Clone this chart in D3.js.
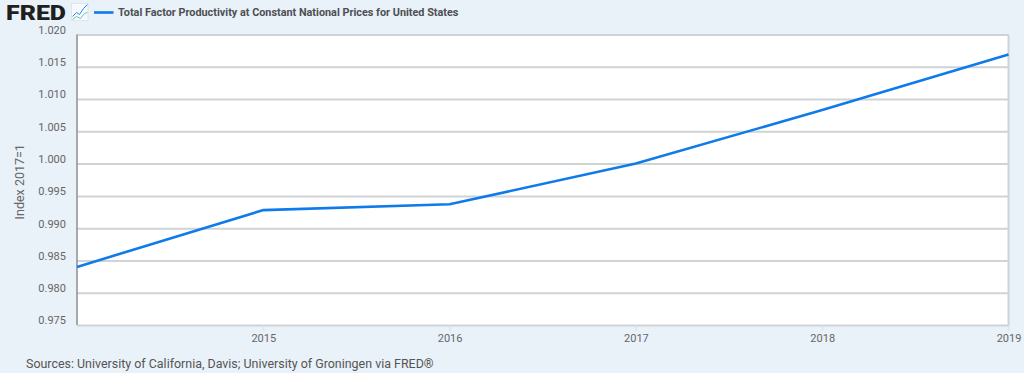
<!DOCTYPE html>
<html>
<head>
<meta charset="utf-8">
<script src="https://cdn.jsdelivr.net/npm/d3@7"></script>
<style>
    html, body { margin: 0; padding: 0; background: #e9f1f9; overflow: hidden; }
    text { font-family: Roboto, sans-serif; }
    .grid line { stroke: #cfd3d6; stroke-width: 2px; }
    .axis text { fill: #666666; font-size: 11px; }
    .axis path { display: none; }
</style>
</head>
<body>
<div id="chart"></div>
<script>
var years = [2014, 2015, 2016, 2017, 2018, 2019];
var tfp = [0.9840, 0.9928, 0.9937, 1.0000, 1.0083, 1.0169];
var yTicks = [0.975, 0.980, 0.985, 0.990, 0.995, 1.000, 1.005, 1.010, 1.015, 1.020];
var xTicks = [2015, 2016, 2017, 2018, 2019];
var seriesName = "Total Factor Productivity at Constant National Prices for United States";
var yLabel = "Index 2017=1";
var source = "Sources: University of California, Davis; University of Groningen via FRED\u00AE";

var margin = { top: 34.5, right: 15.5, bottom: 48, left: 77 }
    , width = 1024 - margin.left - margin.right
    , height = 373 - margin.top - margin.bottom;

var svg = d3.select("#chart").append("svg")
    .attr("width", 1024)
    .attr("height", 373)
    .style("display", "block");

var g = svg.append("g")
    .attr("transform", "translate(" + margin.left + "," + margin.top + ")");

var xScale = d3.scaleLinear().domain([2014, 2019]).range([0, width]);
var yScale = d3.scaleLinear().domain([0.975, 1.020]).range([height, 0]);

// Plot background
g.append("rect")
    .attr("width", width)
    .attr("height", height)
    .attr("fill", "#ffffff");

// Grid lines
g.append("g")
    .attr("class", "grid")
    .call(d3.axisLeft(yScale).tickValues(yTicks).tickSize(-width).tickFormat(""))
    .call(function (s) { s.select(".domain").remove(); });

// Right edge and left axis line
g.append("line")
    .attr("x1", width).attr("x2", width)
    .attr("y1", 0).attr("y2", height)
    .attr("stroke", "#cfd3d6").attr("stroke-width", 2);
g.append("line")
    .attr("x1", 0).attr("x2", 0)
    .attr("y1", 0).attr("y2", height)
    .attr("stroke", "#8a8f94").attr("stroke-width", 1.5);

// Y axis
g.append("g")
    .attr("class", "axis")
    .call(d3.axisLeft(yScale).tickValues(yTicks).tickSize(0).tickPadding(11).tickFormat(d3.format(".3f")))
    .selectAll("text").attr("dy", "-0.1em");

// X axis
var xAxis = g.append("g")
    .attr("class", "axis")
    .attr("transform", "translate(0," + height + ")")
    .call(d3.axisBottom(xScale).tickValues(xTicks).tickSize(6).tickPadding(3).tickFormat(d3.format("d")));
xAxis.selectAll("line").attr("stroke", "#d5dfe8");

// Line
g.append("path")
    .datum(years)
    .attr("fill", "none")
    .attr("stroke", "#0f7bea")
    .attr("stroke-width", 2.6)
    .attr("d", d3.line()
        .x(function (d) { return xScale(d); })
        .y(function (d, i) { return yScale(tfp[i]); }));

// Y axis title
svg.append("text")
    .attr("transform", "translate(24," + (margin.top + height / 2 + 2) + ") rotate(-90)")
    .attr("text-anchor", "middle")
    .attr("fill", "#666666")
    .attr("font-size", "12.5px")
    .text(yLabel);

// FRED logo as text, with the small chart icon
svg.append("text")
    .attr("x", 6).attr("y", 20)
    .attr("font-size", "21px")
    .attr("font-weight", 900)
    .attr("fill", "#1f1f1f")
    .attr("textLength", 60)
    .attr("lengthAdjust", "spacingAndGlyphs")
    .text("FRED");

var icon = svg.append("g").attr("transform", "translate(71.5,3.5)");
icon.append("rect")
    .attr("width", 16.5).attr("height", 17)
    .attr("fill", "#f7fafc").attr("stroke", "#d3dbe2").attr("stroke-width", 0.6);
icon.append("path")
    .attr("d", "M1,13 L5,9 L8,11 L12,5 L16,1")
    .attr("fill", "none").attr("stroke", "#1277e6").attr("stroke-width", 0.9);
icon.append("path")
    .attr("d", "M1,16 L5,13 L9,15 L13,10 L16,9")
    .attr("fill", "none").attr("stroke", "#5cc0a5").attr("stroke-width", 0.9);

// Legend
svg.append("line")
    .attr("x1", 94).attr("x2", 113.5)
    .attr("y1", 12.5).attr("y2", 12.5)
    .attr("stroke", "#0f7bea").attr("stroke-width", 2.6);
svg.append("text")
    .attr("x", 118).attr("y", 16)
    .attr("font-size", "10.85px")
    .attr("font-weight", 700)
    .attr("fill", "#4d4f53")
    .text(seriesName);

// Source note
svg.append("text")
    .attr("x", 26).attr("y", 368)
    .attr("font-size", "12.45px")
    .attr("fill", "#555555")
    .text(source);
</script>
</body>
</html>
